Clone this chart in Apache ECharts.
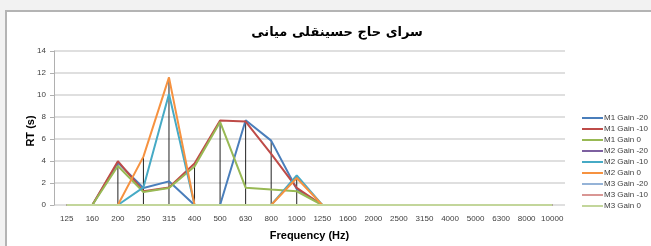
<!DOCTYPE html>
<html>
<head>
<meta charset="utf-8">
<script src="https://cdn.jsdelivr.net/npm/echarts@6/dist/echarts.min.js"></script>
<style>
	html, body { margin: 0; overflow: hidden; background: #f2f2f2; width: 651px; height: 246px; }
	#frame { position: absolute; left: 5px; top: 10px; width: 660px; height: 250px; background: #fff; border: 2px solid #b4b4b4; }
	#chart { position: absolute; left: 0; top: 0; width: 651px; height: 246px; }
</style>
</head>
<body>
<div id="frame"></div>
<div id="chart"></div>
<script>
// frequency bands
var categories = ['125', '160', '200', '250', '315', '400', '500', '630', '800', '1000',
	'1250', '1600', '2000', '2500', '3150', '4000', '5000', '6300', '8000', '10000'];

// RT values
var m1Gain20 = [0, 0, 3.85, 1.55, 2.15, 0, 0, 7.7, 5.85, 1.45, 0, 0, 0, 0, 0, 0, 0, 0, 0, 0];
var m1Gain10 = [0, 0, 3.98, 1.25, 1.6, 3.78, 7.68, 7.58, 4.65, 1.55, 0, 0, 0, 0, 0, 0, 0, 0, 0, 0];
var m1Gain0 = [0, 0, 3.55, 1.18, 1.55, 3.5, 7.55, 1.57, 1.4, 1.25, 0, 0, 0, 0, 0, 0, 0, 0, 0, 0];
var m2Gain20 = [0, 0, 0, 0, 0, 0, 0, 0, 0, 0, 0, 0, 0, 0, 0, 0, 0, 0, 0, 0];
var m2Gain10 = [0, 0, 0, 1.6, 10.1, 0, 0, 0, 0, 2.68, 0, 0, 0, 0, 0, 0, 0, 0, 0, 0];
var m2Gain0 = [0, 0, 0, 4.4, 11.6, 0, 0, 0, 0, 2.45, 0, 0, 0, 0, 0, 0, 0, 0, 0, 0];
var m3Gain20 = [0, 0, 0, 0, 0, 0, 0, 0, 0, 0, 0, 0, 0, 0, 0, 0, 0, 0, 0, 0];
var m3Gain10 = [0, 0, 0, 0, 0, 0, 0, 0, 0, 0, 0, 0, 0, 0, 0, 0, 0, 0, 0, 0];
var m3Gain0 = [0, 0, 0, 0, 0, 0, 0, 0, 0, 0, 0, 0, 0, 0, 0, 0, 0, 0, 0, 0];

var seriesNames = ['M1 Gain -20', 'M1 Gain -10', 'M1 Gain 0', 'M2 Gain -20', 'M2 Gain -10',
	'M2 Gain 0', 'M3 Gain -20', 'M3 Gain -10', 'M3 Gain 0'];
var seriesData = [m1Gain20, m1Gain10, m1Gain0, m2Gain20, m2Gain10, m2Gain0, m3Gain20, m3Gain10, m3Gain0];
var colors = ['#4a7ebb', '#be4b48', '#98b954', '#7d60a0', '#46aac5', '#f69240', '#95b3d7', '#d99694', '#c3d69b'];

// drop lines: from the highest point of each band down to the axis
var dropLines = categories.map(function(c, i) {
	var max = 0;
	seriesData.forEach(function(d) { if (d[i] > max) max = d[i]; });
	return max;
});

var series = [{
	type: 'bar',
	data: dropLines,
	barWidth: 1,
	silent: true,
	itemStyle: { color: '#222' },
	z: 1
}];
seriesNames.forEach(function(name, i) {
	series.push({
		name: name,
		type: 'line',
		data: seriesData[i],
		symbol: 'none',
		lineStyle: { width: 2, color: colors[i] },
		itemStyle: { color: colors[i] },
		z: 2 + i
	});
});

var myChart = echarts.init(document.getElementById('chart'));
myChart.setOption({
	animation: false,
	color: colors,
	textStyle: { fontFamily: 'Liberation Sans, Arial, sans-serif' },
	title: {
		text: 'سرای حاج حسینقلی میانی',
		left: 332,
		textAlign: 'center',
		top: 21,
		textStyle: { fontFamily: 'DejaVu Serif, DejaVu Sans', fontSize: 13, fontWeight: 'bold', color: '#000' }
	},
	// y axis title, placed by hand next to the labels
	graphic: [{
		type: 'text',
		x: 31,
		y: 131,
		rotation: Math.PI / 2,
		style: {
			text: 'RT (s)',
			align: 'center',
			verticalAlign: 'middle',
			font: 'bold 11px Liberation Sans, Arial, sans-serif',
			fill: '#000'
		}
	}],
	legend: {
		data: seriesNames,
		orient: 'vertical',
		left: 577,
		top: 109,
		itemWidth: 21,
		itemHeight: 2,
		itemGap: 3,
		icon: 'rect',
		textStyle: { fontSize: 8, color: '#404040', padding: [0, 0, 0, -4] }
	},
	grid: { left: 54, right: 86, top: 51, bottom: 35 },
	xAxis: {
		type: 'category',
		data: categories,
		boundaryGap: true,
		name: 'Frequency (Hz)',
		nameLocation: 'middle',
		nameGap: 25,
		nameTextStyle: { fontSize: 11, fontWeight: 'bold', color: '#000' },
		axisLine: { show: false },
		axisTick: { show: false },
		axisLabel: { interval: 0, fontSize: 8, color: '#404040', margin: 10 }
	},
	yAxis: {
		type: 'value',
		min: 0,
		max: 14,
		interval: 2,
		axisLine: { show: true, lineStyle: { color: '#b0b0b0' } },
		axisTick: { show: true, inside: false, length: 4, lineStyle: { color: '#b0b0b0' } },
		axisLabel: { fontSize: 8, color: '#404040', margin: 8 },
		splitLine: { lineStyle: { color: '#d4d4d4', width: 1.5 } }
	},
	series: series
});
</script>
</body>
</html>
